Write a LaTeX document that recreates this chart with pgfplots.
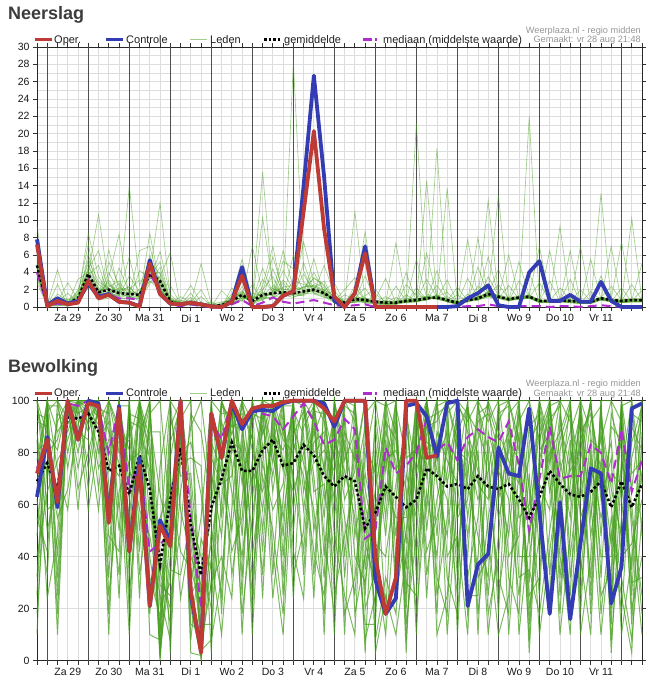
\documentclass[border=0pt]{standalone}
\usepackage{pgfplots}
\pgfplotsset{compat=1.18}
\usepackage{pgfplotstable}
\usepackage{fontspec}
\setmainfont{Liberation Sans}
\definecolor{opred}{RGB}{190,58,52}
\definecolor{ctlblue}{RGB}{52,60,180}
\definecolor{memgreen}{RGB}{70,158,30}
\definecolor{medpurple}{RGB}{175,45,205}
\definecolor{gridlight}{RGB}{221,221,221}
\definecolor{griddark}{RGB}{80,80,80}
\definecolor{srcgrey}{RGB}{150,150,150}
\definecolor{titlegrey}{RGB}{60,60,60}

\pgfplotstableread{
x op ctl mean med
0 7.2 7.8 4.8 4.0
1 0.1 0.2 0.3 0.1
2 0.7 1.0 0.6 0.4
3 0.3 0.4 0.4 0.2
4 0.5 0.7 1.0 0.6
5 3.0 2.7 3.8 3.2
6 1.0 1.2 1.7 1.2
7 1.4 1.5 2.0 1.4
8 0.6 0.6 1.6 1.0
9 0.5 0.5 1.5 1.0
10 0.05 0.1 1.4 0.8
11 5.0 5.4 3.8 3.8
12 1.5 1.5 3.0 1.8
13 0.4 0.4 0.6 0.3
14 0.3 0.3 0.3 0.1
15 0.5 0.5 0.5 0.3
16 0.3 0.3 0.3 0.1
17 0.05 0.05 0.1 0.0
18 0.0 0.0 0.2 0.0
19 0.6 0.6 0.7 0.3
20 3.6 4.6 1.4 0.8
21 0.0 0.0 0.7 0.1
22 0.0 0.0 1.4 0.5
23 0.1 0.1 1.6 1.1
24 1.3 1.3 1.7 0.6
25 1.8 1.8 1.6 0.4
26 11.0 14.0 1.8 0.6
27 20.3 26.7 2.0 0.8
28 9.0 15.0 1.6 0.5
29 1.2 0.7 0.8 0.2
30 0.0 0.0 0.5 0.1
31 1.6 1.6 0.9 0.2
32 6.2 7.0 0.8 0.3
33 0.0 0.0 0.6 0.0
34 0.0 0.0 0.5 0.0
35 0.0 0.0 0.5 0.0
36 0.0 0.0 0.7 0.1
37 0.0 0.0 0.8 0.1
38 0.0 0.0 1.0 0.1
39 0.0 0.0 1.1 0.1
40 nan 0.0 0.8 0.0
41 nan 0.1 0.5 0.0
42 nan 1.0 0.8 0.1
43 nan 1.6 1.0 0.1
44 nan 2.5 1.5 0.3
45 nan 0.2 1.2 0.1
46 nan 0.0 0.9 0.0
47 nan 0.0 1.1 0.1
48 nan 4.0 1.2 0.1
49 nan 5.3 0.7 0.1
50 nan 0.7 0.7 0.0
51 nan 0.7 0.8 0.1
52 nan 1.4 0.7 0.1
53 nan 0.6 0.6 0.0
54 nan 0.6 0.6 0.1
55 nan 2.9 1.0 0.2
56 nan 0.7 0.8 0.1
57 nan 0.0 0.7 0.0
58 nan 0.0 0.8 0.1
59 nan 0.0 0.8 0.1
}\topmain

\pgfplotstableread[header=false]{
0 4.5 5.2 3.8 6.0 4.9 9.5 4.1 3.5 5.5 4.0 6.8 3.2 4.6 5.0 2.8 7.5 4.3 3.9 5.8 4.4
1 0.2 0.4 0.1 0.3 0.5 0.2 0.0 0.6 0.3 0.1 0.4 0.2 0.8 0.3 0.1 0.5 0.2 0.0 0.4 0.3
2 0.5 1.2 0.3 4.3 0.6 0.2 0.9 0.4 0.7 1.5 0.3 0.1 0.8 0.5 2.6 0.4 0.6 0.2 1.0 0.3
3 0.3 0.6 0.2 0.5 2.8 0.1 0.4 0.3 0.2 0.7 0.1 0.5 0.3 0.9 0.2 0.4 1.6 0.3 0.2 0.5
4 0.8 1.5 0.6 1.2 0.9 2.0 0.4 1.1 0.7 1.8 0.5 1.0 3.2 0.6 0.9 1.3 0.4 0.8 1.6 0.7
5 3.5 4.2 2.8 8.5 3.9 5.0 3.1 4.6 2.5 3.7 6.2 3.3 4.0 2.9 5.5 3.6 4.4 3.0 7.2 3.8
6 1.5 2.2 1.0 3.5 10.7 1.8 0.9 2.6 1.3 4.8 1.1 2.0 1.6 0.8 2.9 1.4 6.5 1.2 1.9 1.7
7 2.1 1.5 3.4 1.8 2.6 1.2 5.2 1.9 2.3 1.4 4.0 1.7 2.8 1.0 2.2 3.1 1.6 6.6 1.3 2.5
8 1.4 2.0 8.4 1.1 1.8 1.6 2.5 0.9 3.0 1.3 1.7 2.2 1.0 4.5 1.5 1.2 2.7 1.9 0.8 1.6
9 1.2 1.8 1.0 14.0 1.5 2.4 0.8 1.6 1.3 3.6 1.1 2.0 0.9 1.7 5.8 1.4 1.0 2.3 1.2 1.6
10 1.1 1.6 0.9 2.5 1.3 1.0 4.2 1.4 0.7 1.8 1.2 3.1 1.0 1.5 0.8 2.0 1.3 1.1 6.5 1.4
11 3.5 4.3 3.0 5.2 3.8 8.5 3.3 4.6 2.7 3.9 6.0 3.1 4.1 5.5 3.6 2.9 4.8 3.4 7.0 3.7
12 2.6 3.2 2.0 3.8 12.0 2.4 3.5 1.8 4.6 2.8 2.2 6.4 3.0 2.1 5.2 2.7 1.9 3.4 2.3 4.0
13 0.5 0.8 0.4 0.6 1.1 0.3 6.3 0.7 0.5 0.9 0.4 1.4 0.6 0.3 0.8 2.5 0.5 0.7 0.4 1.0
14 0.3 0.4 0.2 0.6 0.3 0.5 0.1 0.8 0.3 0.2 1.2 0.4 0.3 0.1 0.5 0.3 0.7 0.2 0.4 0.3
15 0.4 0.6 0.3 2.5 0.5 0.2 0.7 0.4 1.6 0.3 0.5 0.8 0.2 0.6 0.4 1.1 0.3 0.5 0.7 0.4
16 0.2 0.3 0.1 0.5 5.0 0.2 0.4 0.3 0.1 0.6 0.2 0.3 1.2 0.2 0.4 0.1 0.3 2.0 0.2 0.3
17 0.1 0.0 0.2 0.1 0.3 0.0 0.1 0.4 0.0 0.1 0.2 0.0 0.1 0.6 0.0 0.2 0.1 0.0 0.3 0.1
18 0.1 0.2 0.0 0.3 0.1 0.5 0.0 0.2 1.9 0.1 0.0 0.3 0.2 0.1 0.4 0.0 0.2 0.1 0.6 0.2
19 0.6 0.9 0.4 1.2 0.5 0.8 2.2 0.3 0.7 1.0 0.5 0.6 1.5 0.4 0.9 0.6 0.3 1.1 0.7 0.5
20 1.2 1.8 0.8 5.5 1.0 1.5 0.9 2.4 1.1 1.6 0.7 3.0 1.3 1.0 1.9 0.8 4.2 1.4 1.2 1.7
21 0.6 0.9 0.3 0.8 7.0 0.5 1.2 0.4 0.7 0.2 1.6 0.6 0.5 0.9 0.3 2.6 0.7 0.4 0.8 0.6
22 1.2 15.6 0.9 1.8 1.5 10.3 1.1 2.4 0.8 1.6 1.3 4.5 1.0 2.0 1.4 0.7 3.2 1.2 1.7 1.1
23 1.5 2.0 1.2 5.8 1.7 2.6 1.0 7.0 1.9 1.3 2.4 1.6 1.1 3.5 1.4 2.2 1.8 4.4 1.3 1.6
24 1.6 2.1 1.3 1.9 6.5 1.5 2.8 1.2 1.8 4.2 1.4 2.3 1.7 1.0 3.1 1.5 2.0 1.6 5.3 1.4
25 1.5 1.8 28.3 1.4 2.2 1.7 1.2 3.0 1.6 1.9 1.1 2.5 1.4 6.0 1.8 1.3 2.1 1.5 4.4 1.6
26 1.7 2.3 4.2 1.5 1.9 3.8 1.4 2.6 1.8 7.5 1.6 2.0 1.3 2.9 1.7 5.1 2.2 1.5 1.8 2.4
27 1.9 2.5 1.6 3.4 2.1 1.7 5.6 2.3 1.8 2.8 1.5 4.0 2.2 1.6 2.6 1.9 3.3 2.0 1.7 2.4
28 1.5 2.0 1.2 2.4 1.7 4.8 1.3 1.9 1.6 2.2 1.1 1.8 3.0 1.4 1.7 1.5 2.6 1.3 1.9 1.6
29 0.8 1.2 0.5 1.0 0.7 1.5 0.6 2.8 0.9 0.4 1.1 0.7 0.8 1.9 0.6 0.9 0.5 1.3 0.7 0.8
30 0.4 0.6 0.3 0.8 0.5 0.2 1.4 0.4 0.6 0.3 0.5 2.0 0.4 0.3 0.7 0.5 0.2 0.6 0.4 0.5
31 0.8 1.1 0.6 1.4 11.0 0.7 0.9 1.6 0.5 1.0 0.8 3.4 0.6 1.2 0.7 0.9 2.5 0.8 0.6 1.0
32 0.7 1.0 0.5 8.7 0.8 0.6 1.3 0.4 0.9 2.2 0.7 0.6 1.1 0.5 3.6 0.8 0.6 0.9 0.7 1.0
33 0.5 0.8 0.4 0.6 0.7 0.3 2.1 0.5 0.6 0.4 0.9 0.5 0.3 1.5 0.6 0.4 0.7 0.5 0.8 0.4
34 0.4 0.6 0.3 1.2 0.5 0.4 0.3 0.7 0.4 0.2 3.3 0.5 0.4 0.6 0.3 0.5 0.4 0.8 0.3 0.5
35 0.5 0.7 0.3 0.6 0.4 7.4 0.5 0.3 0.6 0.4 0.5 1.1 0.3 0.6 0.4 2.4 0.5 0.3 0.6 0.4
36 0.6 0.9 0.5 0.7 1.4 0.6 0.5 2.6 0.7 0.6 0.8 0.5 1.0 0.6 4.0 0.7 0.5 0.8 0.6 0.7
37 0.7 1.0 0.6 0.9 0.7 21.2 0.6 1.3 0.8 0.7 0.6 2.2 0.7 0.9 0.6 0.8 1.7 0.7 0.6 5.5
38 0.9 1.2 14.6 1.0 0.8 1.5 0.9 1.1 3.2 0.8 1.0 0.9 1.3 0.8 6.2 1.0 0.9 1.2 0.8 1.1
39 1.0 1.3 0.9 1.1 18.3 1.0 1.2 0.9 1.1 2.5 1.0 1.3 0.9 4.2 1.1 1.0 1.2 0.9 1.4 1.0
40 0.7 0.9 0.6 13.7 0.7 0.8 0.6 1.2 0.7 0.8 3.1 0.6 0.7 0.9 0.6 0.8 1.7 0.7 0.6 0.8
41 0.4 0.6 0.3 0.5 0.4 0.7 0.3 0.5 2.3 0.4 0.5 0.3 0.6 0.4 0.5 0.3 0.6 1.4 0.4 0.5
42 0.7 1.0 0.6 0.8 0.7 7.8 0.6 0.9 0.7 0.8 0.6 1.5 0.7 0.8 3.3 0.7 0.9 0.6 0.8 0.7
43 0.9 1.2 0.8 1.0 0.9 1.1 8.0 0.8 1.2 0.9 1.0 0.8 2.4 0.9 1.1 0.8 1.0 4.6 0.9 1.1
44 1.4 1.7 1.2 12.3 1.3 1.6 1.2 1.5 1.3 1.8 1.2 3.5 1.4 1.3 1.6 1.2 5.8 1.4 1.3 1.5
45 1.1 1.4 1.0 1.2 1.1 1.3 1.0 12.9 1.1 1.2 1.0 1.3 4.4 1.1 1.2 1.0 1.3 1.1 2.6 1.2
46 0.8 1.1 0.7 0.9 6.0 0.8 0.9 0.7 1.0 0.8 2.5 0.9 0.7 0.8 1.0 0.7 0.9 0.8 1.0 0.9
47 1.0 1.3 0.9 1.1 1.0 1.2 0.9 1.1 1.0 5.2 0.9 1.1 1.0 1.2 0.9 3.0 1.0 1.1 0.9 1.2
48 1.1 1.4 22.0 1.2 1.1 1.3 1.0 1.2 1.1 1.3 1.0 1.2 1.1 1.3 1.0 1.2 1.1 1.3 4.0 1.2
49 0.6 0.8 0.5 0.7 0.6 7.0 0.5 0.7 0.6 0.8 0.5 0.7 2.8 0.6 0.7 0.5 0.6 0.8 0.5 0.7
50 0.6 0.8 0.5 0.7 0.6 0.8 0.5 6.5 0.6 0.7 0.5 0.8 0.6 0.7 3.0 0.6 0.7 0.5 0.6 0.8
51 0.7 0.9 0.6 9.3 0.7 0.8 0.6 0.9 0.7 0.8 0.6 0.9 0.7 2.2 0.6 0.8 0.7 0.9 0.6 0.8
52 0.6 0.8 0.5 0.7 0.6 0.8 6.5 0.7 0.6 0.8 0.5 0.7 0.6 0.8 0.5 0.7 3.2 0.6 0.7 0.8
53 0.5 0.7 0.4 0.6 0.5 0.7 0.4 0.6 7.0 0.7 0.4 0.6 0.5 0.7 0.4 0.6 0.5 2.0 0.6 0.7
54 0.5 0.7 0.4 0.6 5.5 0.7 0.4 0.6 0.5 0.7 0.4 0.6 0.5 0.7 1.8 0.6 0.5 0.7 0.4 0.6
55 0.9 1.1 0.8 1.0 0.9 1.1 0.8 1.0 0.9 1.1 13.1 1.0 0.9 1.1 0.8 1.0 3.6 1.1 0.8 1.0
56 0.7 0.9 0.6 0.8 0.7 0.9 7.0 0.8 0.7 0.9 0.6 0.8 0.7 2.4 0.6 0.8 0.7 0.9 0.6 0.8
57 0.6 0.8 0.5 0.7 0.6 0.8 0.5 0.7 0.6 7.5 0.5 0.7 0.6 0.8 0.5 0.7 0.6 0.8 2.2 0.7
58 0.7 0.9 0.6 0.8 0.7 0.9 0.6 0.8 10.2 0.9 0.6 0.8 0.7 0.9 0.6 2.6 0.7 0.9 0.6 0.8
59 0.7 0.9 0.6 0.8 0.7 0.9 0.6 5.0 0.7 0.9 0.6 0.8 0.7 0.9 0.6 0.8 1.9 0.9 0.6 0.8
}\topmem

\pgfplotstableread{
x op ctl mean med
0 72 63 69 74
1 85 86 76 86
2 61 59 66 62
3 100 100 94 99
4 85 85 93 98
5 99 100 95 100
6 98 99 88 97
7 53 54 73 80
8 97 98 75 98
9 42 42 64 65
10 75 78 79 77
11 21 21 66 42
12 52 54 37 45
13 44 46 62 48
14 100 100 82 93
15 27 25 52 55
16 3 4 33 20
17 95 95 59 92
18 78 78 70 85
19 100 99 84 100
20 91 89 73 92
21 97 96 73 96
22 98 96.5 81 95
23 98 96 85 94
24 99.5 99 75 89
25 100 100 76 94
26 100 100 83 99
27 100 100 79 92
28 97 99 71 83
29 92 90 67 85
30 100 100 71 93
31 100 100 69 89
32 100 100 51 47
33 40 31 57 50
34 18 18 67 82
35 32 24 63 72
36 100 98 59 75
37 100 99 62 80
38 78 94 74 93
39 79 78.5 71 81
40 nan 99 67 84
41 nan 100 68 77
42 nan 21 66 86
43 nan 37 71 89
44 nan 41 67 86
45 nan 82 66 84
46 nan 72 68 92
47 nan 71 62 75
48 nan 97 55 50
49 nan 57 63 70
50 nan 18 73 90
51 nan 61 68 70
52 nan 16 64 71
53 nan 45 63 71
54 nan 74 65 83
55 nan 72 69 80
56 nan 22 59 68
57 nan 36 69 89
58 nan 97 59 65
59 nan 99 68 77
}\botmain

\pgfplotstableread[header=false]{
0 98 25 100 77 62 92 10 100 48 85 73 100 32 88 68 18 95 55 81 40
1 80 100 58 100 33 90 100 71 96 24 100 87 98 50 100 76 93 42 84 65
2 85 100 62 32 100 10 73 92 100 48 25 81 98 68 88 55 40 95 18 77
3 100 74 100 98 93 100 58 100 88 100 97 100 80 100 95 66 100 91 99 85
4 100 100 93 80 100 58 97 100 100 88 74 99 100 95 100 91 85 100 66 98
5 100 91 58 100 99 100 74 95 100 85 93 100 66 98 88 100 100 97 80 100
6 95 100 85 100 66 99 100 91 100 58 100 98 100 80 100 93 100 74 97 88
7 32 77 92 55 100 73 48 100 10 98 88 40 68 100 25 81 62 85 95 18
8 100 71 24 96 90 100 42 80 100 58 76 100 33 87 65 98 100 84 50 93
9 48 88 100 18 40 62 100 85 73 95 10 32 100 55 77 98 68 25 92 81
10 100 42 100 87 76 98 24 100 65 93 84 100 50 96 80 33 100 71 90 58
11 68 95 40 100 18 81 100 55 88 10 100 77 92 32 98 62 85 25 73 48
12 34 100 14 4 75 0 21 47 88 8 2 29 64 17 40 11 6 55 1 25
13 20 55 78 35 100 50 30 100 3 90 72 25 45 95 14 60 40 66 84 8
14 65 96 100 33 58 76 100 93 84 100 24 50 100 71 87 100 80 42 98 90
15 90 14 100 55 40 78 3 100 30 66 50 95 20 72 45 8 84 35 60 25
16 100 11 0 40 29 75 2 17 55 6 14 88 1 25 8 47 64 21 4 34
17 66 100 40 20 95 3 50 78 100 30 14 60 90 45 72 35 25 84 8 55
18 100 55 10 88 81 100 25 68 95 40 62 100 18 77 48 92 98 73 32 85
19 80 100 58 100 33 90 100 71 96 24 100 87 98 50 100 76 93 42 84 65
20 98 25 100 77 62 92 10 100 48 85 73 100 32 88 68 18 95 55 81 40
21 85 100 62 32 100 10 73 92 100 48 25 81 98 68 88 55 40 95 18 77
22 50 87 98 71 100 84 65 100 24 100 96 58 80 100 42 90 76 93 100 33
23 93 100 76 50 100 24 84 98 100 65 42 90 100 80 96 71 58 100 33 87
24 48 88 100 18 40 62 100 85 73 95 10 32 100 55 77 98 68 25 92 81
25 100 71 24 96 90 100 42 80 100 58 76 100 33 87 65 98 100 84 50 93
26 100 42 100 87 76 98 24 100 65 93 84 100 50 96 80 33 100 71 90 58
27 65 96 100 33 58 76 100 93 84 100 24 50 100 71 87 100 80 42 98 90
28 68 95 40 100 18 81 100 55 88 10 100 77 92 32 98 62 85 25 73 48
29 32 77 92 55 100 73 48 100 10 98 88 40 68 100 25 81 62 85 95 18
30 100 55 10 88 81 100 25 68 95 40 62 100 18 77 48 92 98 73 32 85
31 98 25 100 77 62 92 10 100 48 85 73 100 32 88 68 18 95 55 81 40
32 45 84 25 100 8 60 95 35 72 3 100 55 78 20 90 40 66 14 50 30
33 30 72 95 8 25 40 100 66 50 84 3 20 100 35 55 90 45 14 78 60
34 85 100 62 32 100 10 73 92 100 48 25 81 98 68 88 55 40 95 18 77
35 48 88 100 18 40 62 100 85 73 95 10 32 100 55 77 98 68 25 92 81
36 100 35 3 72 60 95 14 45 84 25 40 100 8 55 30 78 90 50 20 66
37 32 77 92 55 100 73 48 100 10 98 88 40 68 100 25 81 62 85 95 18
38 80 100 58 100 33 90 100 71 96 24 100 87 98 50 100 76 93 42 84 65
39 98 25 100 77 62 92 10 100 48 85 73 100 32 88 68 18 95 55 81 40
40 100 55 10 88 81 100 25 68 95 40 62 100 18 77 48 92 98 73 32 85
41 85 100 62 32 100 10 73 92 100 48 25 81 98 68 88 55 40 95 18 77
42 68 95 40 100 18 81 100 55 88 10 100 77 92 32 98 62 85 25 73 48
43 48 88 100 18 40 62 100 85 73 95 10 32 100 55 77 98 68 25 92 81
44 32 77 92 55 100 73 48 100 10 98 88 40 68 100 25 81 62 85 95 18
45 98 25 100 77 62 92 10 100 48 85 73 100 32 88 68 18 95 55 81 40
46 100 55 10 88 81 100 25 68 95 40 62 100 18 77 48 92 98 73 32 85
47 85 100 62 32 100 10 73 92 100 48 25 81 98 68 88 55 40 95 18 77
48 20 55 78 35 100 50 30 100 3 90 72 25 45 95 14 60 40 66 84 8
49 48 88 100 18 40 62 100 85 73 95 10 32 100 55 77 98 68 25 92 81
50 93 100 76 50 100 24 84 98 100 65 42 90 100 80 96 71 58 100 33 87
51 98 25 100 77 62 92 10 100 48 85 73 100 32 88 68 18 95 55 81 40
52 32 77 92 55 100 73 48 100 10 98 88 40 68 100 25 81 62 85 95 18
53 68 95 40 100 18 81 100 55 88 10 100 77 92 32 98 62 85 25 73 48
54 100 55 10 88 81 100 25 68 95 40 62 100 18 77 48 92 98 73 32 85
55 48 88 100 18 40 62 100 85 73 95 10 32 100 55 77 98 68 25 92 81
56 90 14 100 55 40 78 3 100 30 66 50 95 20 72 45 8 84 35 60 25
57 85 100 62 32 100 10 73 92 100 48 25 81 98 68 88 55 40 95 18 77
58 30 72 95 8 25 40 100 66 50 84 3 20 100 35 55 90 45 14 78 60
59 32 77 92 55 100 73 48 100 10 98 88 40 68 100 25 81 62 85 95 18
}\botmem

\pgfplotsset{
  wp/.style={
    scale only axis, width=605pt, height=260pt,
    xmin=0, xmax=59, clip=false, no markers,
    unbounded coords=jump,
    xtick={0,1,...,59},
    xticklabels={,,,Za 29,,,,Zo 30,,,,Ma 31,,,,Di 1,,,,Wo 2,,,,Do 3,,,,Vr 4,,,,Za 5,,,,Zo 6,,,,Ma 7,,,,Di 8,,,,Wo 9,,,,Do 10,,,,Vr 11},
    extra x ticks={1,5,...,57},
    extra x tick labels={},
    extra x tick style={grid=major, major grid style={griddark, line width=0.9pt}},
    xmajorgrids, ymajorgrids,
    major grid style={gridlight, line width=0.8pt},
    minor grid style={gridlight, line width=0.8pt},
    tick align=outside, major tick length=4pt, minor tick length=0pt,
    tick style={black!80, line width=0.8pt},
    axis line style={black!85, line width=0.9pt},
    ticklabel style={font=\fontsize{10.5}{12}\selectfont, text=black!90},
    /pgf/number format/assume math mode=true,
  },
  member/.style={memgreen, opacity=0.5, line width=0.65pt, forget plot},
  bmember/.style={memgreen, opacity=0.7, line width=1pt, forget plot},
  opline/.style={opred, line width=3.8pt, line join=round},
  ctlline/.style={ctlblue, line width=3.8pt, line join=round},
  meanline/.style={black, line width=2.6pt, dash pattern=on 2.6pt off 2.2pt},
  medline/.style={medpurple, line width=2pt, dash pattern=on 9pt off 5pt},
}

\tikzset{lg/.style={anchor=base west, inner sep=0pt, font=\fontsize{11}{13}\selectfont, text=black!88},
src/.style={anchor=base east, inner sep=0pt, font=\fontsize{9.2}{11}\selectfont, text=srcgrey}}

\newcommand{\panelhead}[2]{%
\begin{scope}[shift={(0pt,#2)}]
\node[anchor=base west, inner sep=0pt, font=\fontsize{18}{20}\selectfont\bfseries, text=titlegrey] at (8pt,20.8pt) {#1};
\draw[opred, line width=3pt] (35pt,0pt) -- (52pt,0pt);
\node[lg] at (54pt,-3.5pt) {Oper.};
\draw[ctlblue, line width=3pt] (106pt,0pt) -- (123pt,0pt);
\node[lg] at (126pt,-3.5pt) {Controle};
\draw[memgreen, opacity=0.5, line width=1pt] (190pt,0pt) -- (207pt,0pt);
\node[lg] at (210pt,-3.5pt) {Leden};
\draw[black, line width=3pt, dash pattern=on 2.6pt off 2pt] (264pt,0pt) -- (282pt,0pt);
\node[lg] at (284pt,-3.5pt) {gemiddelde};
\draw[medpurple, line width=3pt, dash pattern=on 9pt off 3pt on 1.5pt off 4pt] (363pt,0pt) -- (380pt,0pt);
\node[lg] at (383pt,-3.5pt) {mediaan (middelste waarde)};
\node[src] at (641pt,6.4pt) {Weerplaza.nl - regio midden};
\node[src] at (641pt,-2.8pt) {Gemaakt: vr 28 aug 21:48};
\end{scope}}

\begin{document}
\begin{tikzpicture}
\useasboundingbox (0pt,0pt) rectangle (649pt,683pt);

\begin{axis}[wp, at={(37pt,376pt)}, anchor=south west,
  ymin=0, ymax=30, ytick={0,2,...,30}, minor ytick={1,3,...,29}, yminorgrids]
\pgfplotsinvokeforeach{1,...,20}{\addplot[member] table[x index=0, y index=#1]{\topmem};}
\addplot[medline] table[x=x, y=med]{\topmain};
\addplot[meanline] table[x=x, y=mean]{\topmain};
\addplot[ctlline] table[x=x, y=ctl]{\topmain};
\addplot[opline] table[x=x, y=op]{\topmain};
\end{axis}

\begin{axis}[wp, at={(37pt,22.3pt)}, anchor=south west,
  ymin=0, ymax=100, ytick={0,20,...,100}]
\pgfplotsinvokeforeach{1,...,20}{\addplot[bmember] table[x index=0, y index=#1]{\botmem};}
\addplot[medline] table[x=x, y=med]{\botmain};
\addplot[meanline] table[x=x, y=mean]{\botmain};
\addplot[ctlline] table[x=x, y=ctl]{\botmain};
\addplot[opline] table[x=x, y=op]{\botmain};
\end{axis}

\panelhead{Neerslag}{643pt}
\panelhead{Bewolking}{289.7pt}
\end{tikzpicture}
\end{document}
